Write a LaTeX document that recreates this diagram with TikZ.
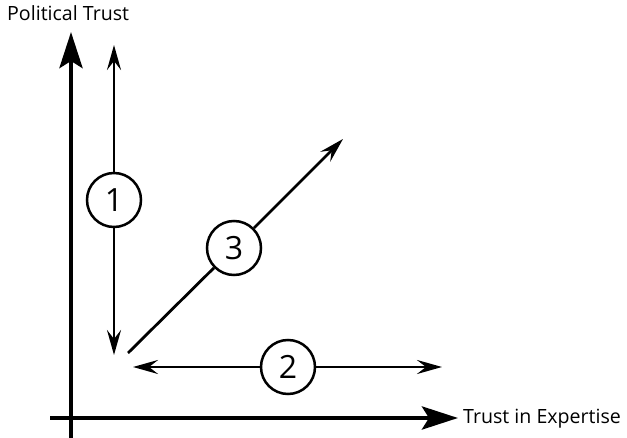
\documentclass[tikz,border=0pt]{standalone}
\usepackage{fontspec}
\setmainfont{Open Sans}
\usetikzlibrary{arrows.meta}
\begin{document}
\begin{tikzpicture}[x=1pt,y=-1pt,
  axisline/.style={line width=4.6pt,-{Stealth[length=36pt,width=23pt,inset=7pt]}},
  thinarrow/.style={line width=2.8pt,-{Stealth[length=25pt,width=14pt,inset=9pt]}},
  thinline/.style={line width=2.8pt},
  numcircle/.style={circle,draw,line width=2.5pt,minimum size=54pt,inner sep=0pt,
    font=\fontsize{32}{34}\selectfont},
  axislabel/.style={inner sep=0pt,font=\fontsize{19.6}{22}\selectfont}]
\useasboundingbox (0,0) rectangle (627,438);
% axes
\coordinate (yb) at (71,440);
\coordinate (yt) at (71,32);
\coordinate (xl) at (50,418);
\coordinate (xr) at (458,418);
\draw[axisline] (yb) -- (yt);
\draw[axisline] (xl) -- (xr);
\node[axislabel,anchor=base west] (ylab) at (7,21) {Political Trust};
\node[axislabel,anchor=base west] (xlab) at (463,424) {Trust in Expertise};
% arrow 1
\node[numcircle] (c1) at (114,200) {1};
\coordinate (t1) at (114,45);
\coordinate (b1) at (114,355);
\draw[thinarrow] (c1) -- (t1);
\draw[thinarrow] (c1) -- (b1);
% arrow 2
\node[numcircle] (c2) at (288,367) {2};
\coordinate (l2) at (133,367);
\coordinate (r2) at (442,367);
\draw[thinarrow] (c2) -- (l2);
\draw[thinarrow] (c2) -- (r2);
% arrow 3
\node[numcircle] (c3) at (234,248) {3};
\coordinate (s3) at (128,353);
\coordinate (e3) at (343,139);
\draw[thinline] (s3) -- (c3);
\draw[thinarrow] (c3) -- (e3);
\end{tikzpicture}
\end{document}
